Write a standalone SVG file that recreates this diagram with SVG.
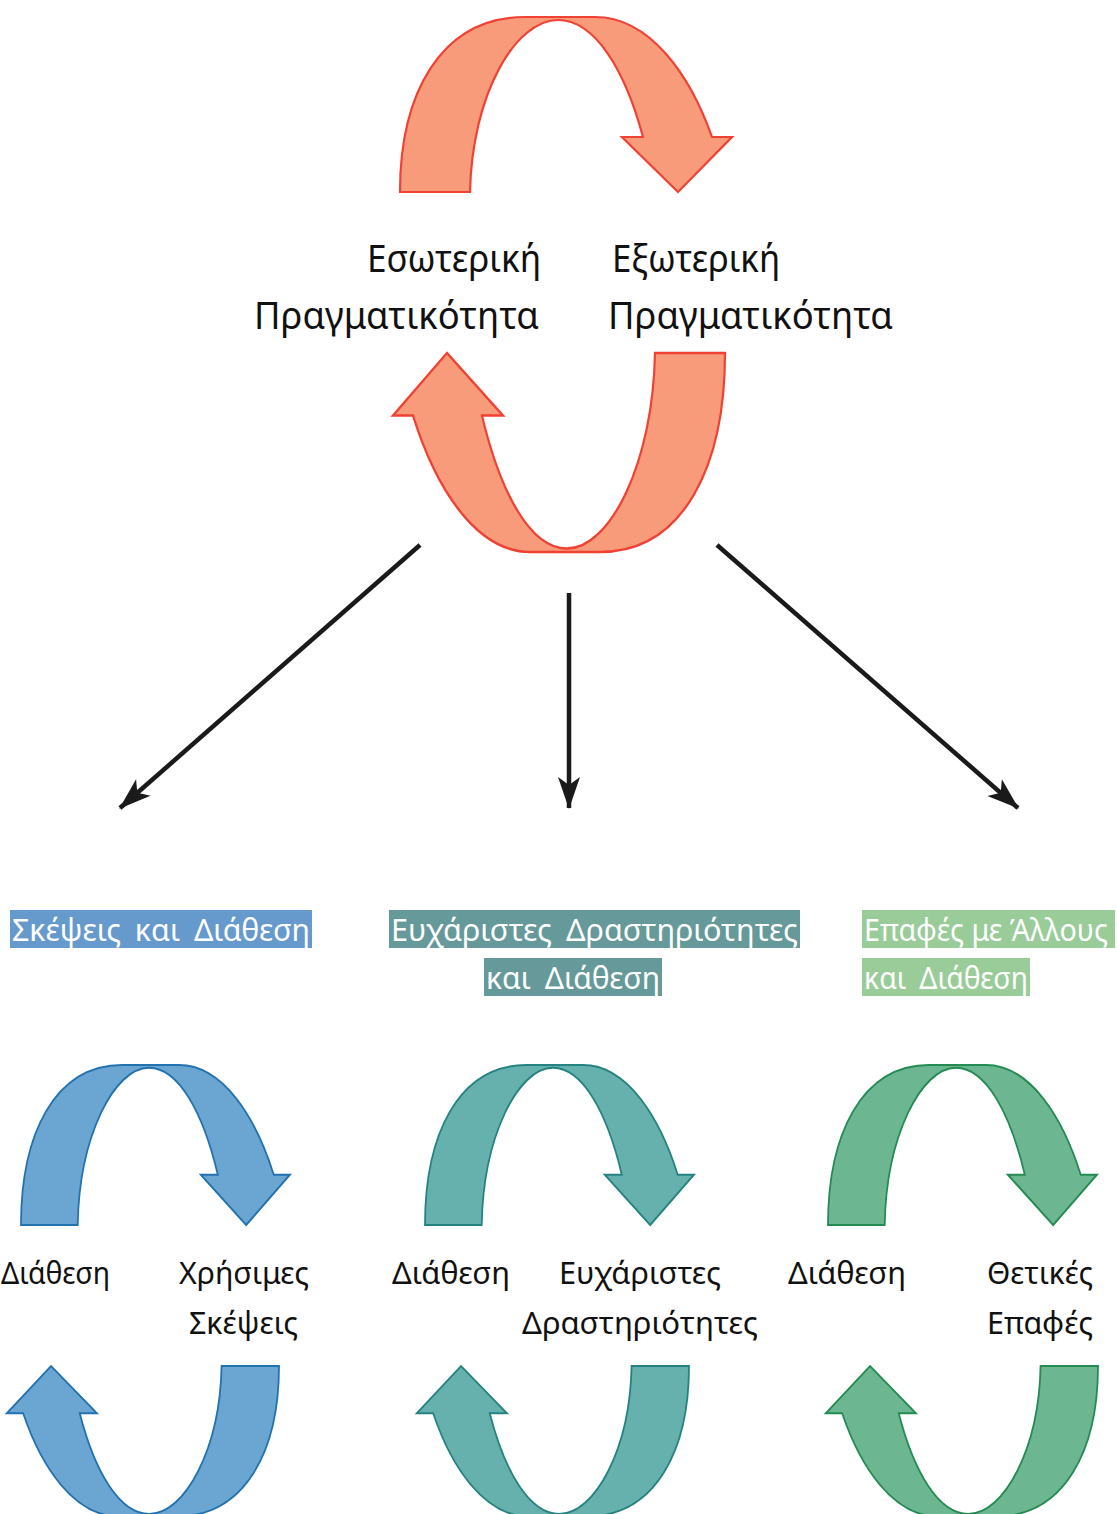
<svg xmlns="http://www.w3.org/2000/svg" width="1117" height="1514" viewBox="0 0 1117 1514">
<style>
  .lbl{font-family:"Noto Sans","DejaVu Sans",sans-serif;fill:#111;}
  .big{font-size:38px;}
  .sm{font-size:30px;}
  .tag{font-family:"Noto Sans","DejaVu Sans",sans-serif;font-size:30px;fill:#fff;}
  .arr{stroke-width:2.2;vector-effect:non-scaling-stroke;stroke-linejoin:miter;}
  .red{fill:#F89B7B;stroke:#EF4234;}
  .blue{fill:#6BA6D2;stroke:#2272B0;}
  .teal{fill:#66B1AE;stroke:#25837F;}
  .green{fill:#6DB692;stroke:#248B52;}
  .conn{stroke:#1a1a1a;stroke-width:4.5;fill:none;}
</style>
<defs>
  <path id="cyc" d="M400,192 C400,95 440,17 525,17 L595,17 C650,17 690,75 712,137 L732,137 L678,192 L622,137 L643,137 C625,70 595,20 558,20 C515,20 472,95 470,192 Z"/>
  <marker id="ah" viewBox="-32 -12 34 24" refX="0" refY="0" markerWidth="34" markerHeight="24" markerUnits="userSpaceOnUse" orient="auto">
    <path d="M1,0 L-31,-11 L-23,0 L-31,11 Z" fill="#1a1a1a"/>
  </marker>
</defs>
<rect width="1117" height="1514" fill="#fff"/>

<g id="main-cycle">
  <use href="#cyc" class="arr red"/>
  <use href="#cyc" class="arr red" transform="matrix(-1 0 0 -1.137 1125 571.3)"/>
  <text class="lbl big" x="367" y="272" textLength="174" lengthAdjust="spacingAndGlyphs">Εσωτερική</text>
  <text class="lbl big" x="612" y="272" textLength="168" lengthAdjust="spacingAndGlyphs">Εξωτερική</text>
  <text class="lbl big" x="254" y="329" textLength="285" lengthAdjust="spacingAndGlyphs">Πραγματικότητα</text>
  <text class="lbl big" x="608" y="329" textLength="285" lengthAdjust="spacingAndGlyphs">Πραγματικότητα</text>
</g>

<g id="connectors">
  <line class="conn" x1="420" y1="545" x2="120" y2="808" marker-end="url(#ah)"/>
  <line class="conn" x1="569" y1="593" x2="569" y2="808" marker-end="url(#ah)"/>
  <line class="conn" x1="717" y1="545" x2="1018" y2="808" marker-end="url(#ah)"/>
</g>

<g id="tag-thoughts">
  <rect x="10" y="910" width="302" height="38" fill="#6699CC"/>
  <text class="tag" x="12" y="941" textLength="298" lengthAdjust="spacingAndGlyphs" word-spacing="6">Σκέψεις και Διάθεση</text>
</g>
<g id="tag-activities">
  <rect x="389" y="910" width="411" height="38" fill="#669999"/>
  <text class="tag" x="391" y="941" textLength="407" lengthAdjust="spacingAndGlyphs" word-spacing="6">Ευχάριστες Δραστηριότητες</text>
  <rect x="484" y="958" width="178" height="38" fill="#669999"/>
  <text class="tag" x="486" y="989" textLength="174" lengthAdjust="spacingAndGlyphs" word-spacing="6">και Διάθεση</text>
</g>
<g id="tag-contacts">
  <rect x="862" y="910" width="253" height="38" fill="#99CC99"/>
  <text class="tag" x="864" y="941" textLength="244" lengthAdjust="spacingAndGlyphs">Επαφές με Άλλους</text>
  <rect x="862" y="958" width="168" height="38" fill="#99CC99"/>
  <text class="tag" x="864" y="989" textLength="164" lengthAdjust="spacingAndGlyphs" word-spacing="6">και Διάθεση</text>
</g>

<g id="cycle-thoughts">
  <use href="#cyc" class="arr blue" transform="matrix(0.81 0 0 0.914 -303 1049.5)"/>
  <use href="#cyc" class="arr blue" transform="matrix(-0.82 0 0 -0.86 607 1531.1)"/>
  <text class="lbl sm" x="1" y="1284" textLength="109" lengthAdjust="spacingAndGlyphs">Διάθεση</text>
  <text class="lbl sm" x="179" y="1284" textLength="130" lengthAdjust="spacingAndGlyphs">Χρήσιμες</text>
  <text class="lbl sm" x="189" y="1334" textLength="109" lengthAdjust="spacingAndGlyphs">Σκέψεις</text>
</g>

<g id="cycle-activities">
  <use href="#cyc" class="arr teal" transform="matrix(0.81 0 0 0.914 101 1049.5)"/>
  <use href="#cyc" class="arr teal" transform="matrix(-0.82 0 0 -0.86 1017 1531.1)"/>
  <text class="lbl sm" x="392" y="1284" textLength="118" lengthAdjust="spacingAndGlyphs">Διάθεση</text>
  <text class="lbl sm" x="559" y="1284" textLength="162" lengthAdjust="spacingAndGlyphs">Ευχάριστες</text>
  <text class="lbl sm" x="522" y="1334" textLength="236" lengthAdjust="spacingAndGlyphs">Δραστηριότητες</text>
</g>

<g id="cycle-contacts">
  <use href="#cyc" class="arr green" transform="matrix(0.81 0 0 0.914 504 1049.5)"/>
  <use href="#cyc" class="arr green" transform="matrix(-0.82 0 0 -0.86 1426 1531.1)"/>
  <text class="lbl sm" x="788" y="1284" textLength="118" lengthAdjust="spacingAndGlyphs">Διάθεση</text>
  <text class="lbl sm" x="987" y="1284" textLength="106" lengthAdjust="spacingAndGlyphs">Θετικές</text>
  <text class="lbl sm" x="987" y="1334" textLength="106" lengthAdjust="spacingAndGlyphs">Επαφές</text>
</g>
</svg>
